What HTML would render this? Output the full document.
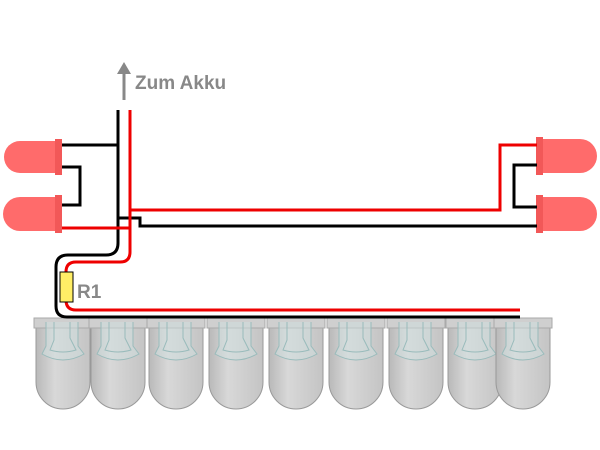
<!DOCTYPE html>
<html><head><meta charset="utf-8"><style>
html,body{margin:0;padding:0;background:#fff;width:600px;height:450px;overflow:hidden}
</style></head><body>
<svg width="600" height="450" xmlns="http://www.w3.org/2000/svg">
<defs>
<linearGradient id="g" x1="0" x2="1" y1="0" y2="0">
<stop offset="0" stop-color="#b9b9b9"/><stop offset="0.35" stop-color="#d8d8d8"/><stop offset="1" stop-color="#c4c4c4"/>
</linearGradient>
<g id="led">
<path d="M2 10 H56 V64 A27 27 0 0 1 2 64 Z" fill="url(#g)" stroke="#999" stroke-width="1"/>
<rect x="0" y="0" width="58" height="10" fill="#cfcfcf" stroke="#aaa" stroke-width="1"/>
<path d="M12 4 V28 L8 36 Q29 48 50 36 L44 28 V4 M20 4 V22 L16 32 Q29 36 42 32 L36 20 V4" fill="#cfe0e0" fill-opacity="0.5" stroke="#9bb" stroke-width="1"/>
</g>
</defs>
<!-- arrow & label -->
<line x1="124" y1="100" x2="124" y2="70" stroke="#888" stroke-width="3"/>
<polygon points="124,62 117,74 131,74" fill="#888"/>
<text x="135" y="89" font-family="Liberation Sans, sans-serif" font-weight="bold" font-size="19" fill="#888">Zum Akku</text>
<!-- gray LEDs -->
<use href="#led" x="34" y="318"/>
<use href="#led" x="89" y="318"/>
<use href="#led" x="147" y="318"/>
<use href="#led" x="207" y="318"/>
<use href="#led" x="267" y="318"/>
<use href="#led" x="327" y="318"/>
<use href="#led" x="387" y="318"/>
<use href="#led" x="446" y="318"/>
<use href="#led" x="494" y="318"/>
<!-- red LEDs left -->
<path d="M62 141 H20 A16 16 0 0 0 20 173 H62 Z" fill="#ff6b6b"/>
<rect x="55" y="139" width="7" height="36" fill="#f25858"/>
<path d="M62 197 H20 A17 17 0 0 0 20 231 H62 Z" fill="#ff6b6b"/>
<rect x="55" y="195" width="7" height="38" fill="#f25858"/>
<!-- red LEDs right -->
<path d="M537 139 H580 A17 17 0 0 1 580 173 H537 Z" fill="#ff6b6b"/>
<rect x="536" y="137" width="7" height="38" fill="#f25858"/>
<path d="M537 197 H580 A17 17 0 0 1 580 231 H537 Z" fill="#ff6b6b"/>
<rect x="536" y="195" width="7" height="38" fill="#f25858"/>
<!-- wires -->
<g fill="none" stroke-width="3">
<path d="M62 145 H118" stroke="#000"/>
<path d="M62 167 H80 V205 H62" stroke="#000"/>
<path d="M118 110 V243 Q118 255 106 255 H68 Q56 255 56 267 V306 Q56 317 67 317 H520" stroke="#000"/>
<path d="M118 218 H140 V226 H537" stroke="#000"/>
<path d="M537 165 H514 V207 H537" stroke="#000"/>
<path d="M62 228 H130" stroke="#e00"/>
<path d="M130 110 V252 Q130 262 120 262 H76 Q66 262 66 272 V300 Q66 310 76 310 H520" stroke="#e00"/>
<path d="M130 210 H500 V145 H537" stroke="#e00"/>
</g>
<rect x="60" y="272" width="13" height="30" fill="#ffee66" stroke="#000" stroke-width="1"/>
<text x="77" y="298" font-family="Liberation Sans, sans-serif" font-weight="bold" font-size="19" fill="#888">R1</text>
</svg>
</body></html>
